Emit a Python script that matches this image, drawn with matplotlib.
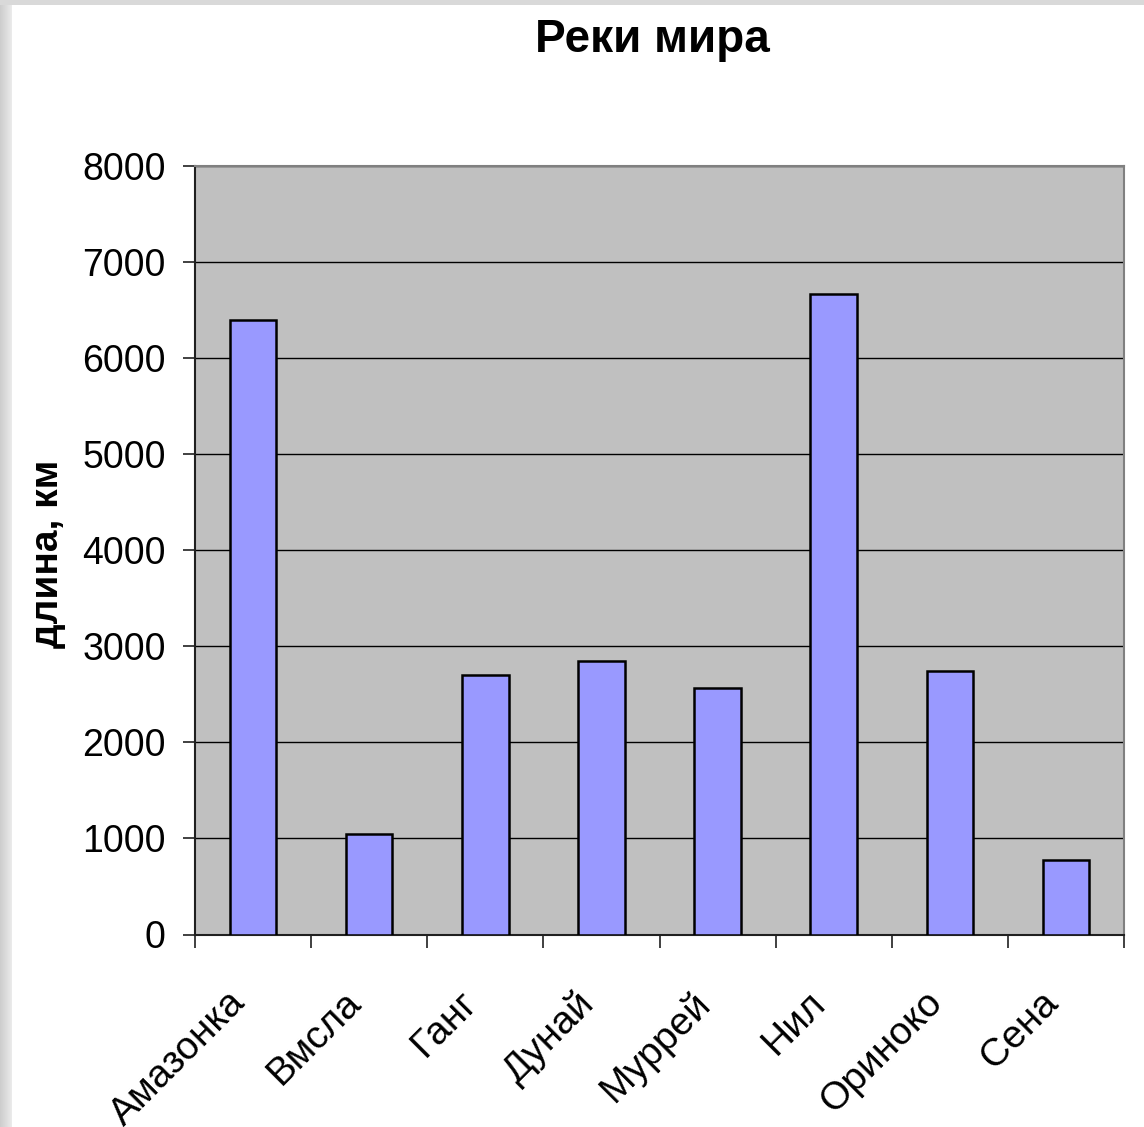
import matplotlib
matplotlib.use("Agg")
import matplotlib.pyplot as plt
import matplotlib.transforms as mtransforms
import numpy as np

rivers = ["Амазонка", "Вмсла", "Ганг", "Дунай", "Муррей", "Нил", "Ориноко", "Сена"]
lengths = [6400, 1047, 2700, 2850, 2570, 6671, 2740, 776]
yticks = [0, 1000, 2000, 3000, 4000, 5000, 6000, 7000, 8000]
title = "Реки мира"
ylabel = "длина, км"

plt.rcParams['font.family'] = ['Liberation Sans', 'DejaVu Sans']

W, H = 1144, 1127
fig = plt.figure(figsize=(W / 100, H / 100), dpi=100)
fig.patch.set_facecolor('white')

# gray frame strips (left and top)
bg = fig.add_axes([0, 0, 12 / W, 1])
grad = np.linspace(0.80, 0.92, 64).reshape(1, -1)
bg.imshow(grad, cmap='gray', vmin=0, vmax=1, aspect='auto', extent=[0, 1, 0, 1])
bg.axis('off')
bgt = fig.add_axes([0, 1 - 5 / H, 1, 5 / H])
bgt.imshow(np.full((1, 2), 0.85), cmap='gray', vmin=0, vmax=1, aspect='auto')
bgt.axis('off')

left, right = 195 / W, 1124 / W
bottom, top = 1 - 934.5 / H, 1 - 166 / H
ax = fig.add_axes([left, bottom, right - left, top - bottom])
ax.set_facecolor('#C0C0C0')

x = np.arange(len(rivers))
ax.bar(x, lengths, width=0.4, color='#9999FF', edgecolor='black', linewidth=1.8, zorder=3)

ax.set_xlim(-0.5, len(rivers) - 0.5)
ax.set_ylim(0, 8000)
ax.set_yticks(yticks)
ax.set_yticklabels([str(v) for v in yticks], fontsize=27)
ax.yaxis.grid(True, color='black', linewidth=1.0, zorder=1)
ax.set_axisbelow(True)

ax.set_xticks(np.arange(-0.5, len(rivers), 1.0))
ax.set_xticklabels([])
ax.set_xticks(x, minor=True)
ax.set_xticklabels(rivers, minor=True, fontsize=28, rotation=45, ha='right', va='top',
                   rotation_mode='anchor')
ax.tick_params(axis='x', which='minor', length=0, pad=36)
ax.tick_params(axis='x', which='major', direction='out', length=9, width=1.2, color='#202020')
ax.tick_params(axis='y', which='major', direction='out', length=9, width=1.2, color='#202020', pad=12)

offset = mtransforms.ScaledTranslation(-26 / 100, 0, fig.dpi_scale_trans)
for lbl in ax.get_xticklabels(minor=True):
    lbl.set_transform(lbl.get_transform() + offset)

for s in ['left', 'bottom']:
    ax.spines[s].set_color('#202020')
    ax.spines[s].set_linewidth(1.5)
for s in ['top', 'right']:
    ax.spines[s].set_color('#808080')
    ax.spines[s].set_linewidth(1.5)

fig.text(652 / W, 1 - 40 / H, title, fontsize=33, fontweight='bold', ha='center', va='center')
fig.text(48 / W, 1 - 554 / H, ylabel, fontsize=28, fontweight='bold', rotation=90,
         ha='center', va='center')

fig.savefig("out.png", dpi=100)
